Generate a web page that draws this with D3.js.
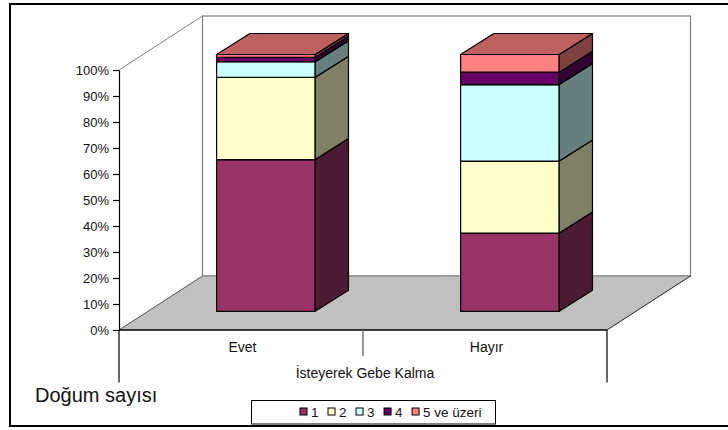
<!DOCTYPE html>
<html>
<head>
<meta charset="utf-8">
<script src="https://cdn.jsdelivr.net/npm/d3@7/dist/d3.min.js"></script>
<style>
  html, body { margin: 0; padding: 0; background: #fff; }
  svg { display: block; font-family: "Liberation Sans", Arial, sans-serif; }
</style>
</head>
<body>
<svg id="chart" width="728" height="430"></svg>
<script>
// Doğum sayısı dağılımı (%), isteyerek gebe kalma durumuna göre
const categories = ["Evet", "Hayır"];
const seriesNames = ["1", "2", "3", "4", "5 ve üzeri"];
const evetValues = [59.1, 32.0, 6.1, 1.7, 1.1];
const hayirValues = [30.5, 28.0, 29.8, 4.8, 6.9];
const valueTicks = [0, 10, 20, 30, 40, 50, 60, 70, 80, 90, 100];
const axisTitle = "İsteyerek Gebe Kalma";
const chartTitle = "Doğum sayısı";

// Face colours per series: front, side (shaded) and top (lighter shade)
const frontColors = ["#993366", "#FFFFCC", "#CCFFFF", "#660066", "#FF8080"];
const sideColors  = ["#4D1A33", "#808066", "#668080", "#330033", "#804040"];
const topColors   = ["#BF4D80", "#BFBF99", "#99BFBF", "#4D004D", "#BF6060"];

// Plot box geometry (front plane and depth vector of the 3-D box)
const plot = { left: 119, right: 607, top: 70, bottom: 330 };
const depth = { dx: 83.5, dy: -54 };
const bar = { frontShiftX: 0, depthX: 33.3, depthY: -21, startFrac: 0.4, widthFrac: 0.404 };

const svg = d3.select("#chart");

// table for d3.stack
const rows = categories.map((c, i) => {
  const vals = i === 0 ? evetValues : hayirValues;
  const r = { category: c };
  seriesNames.forEach((s, j) => { r[s] = vals[j]; });
  return r;
});
const stacked = d3.stack().keys(seriesNames)(rows);

const x = d3.scaleBand().domain(categories).range([plot.left, plot.right]).padding(0);
const yAxisScale = d3.scaleLinear().domain([0, 100]).range([plot.bottom, plot.top]);
// bars stand further back on the floor, so their front face is raised and slightly smaller
const yBar = d3.scaleLinear().domain([0, 100]).range([311.3, 54.5]);

// outer chart frame
svg.append("rect")
  .attr("x", 10).attr("y", 4).attr("width", 740).attr("height", 422)
  .attr("fill", "#fff").attr("stroke", "#000").attr("stroke-width", 2);

const P = (px, py) => `${px},${py}`;
const gWalls = svg.append("g");

// left side wall
gWalls.append("polygon")
  .attr("points", [
    P(plot.left, plot.top), P(plot.left + depth.dx, plot.top + depth.dy),
    P(plot.left + depth.dx, plot.bottom + depth.dy), P(plot.left, plot.bottom)
  ].join(" "))
  .attr("fill", "#fff");
gWalls.append("line")
  .attr("x1", plot.left).attr("y1", plot.top)
  .attr("x2", plot.left + depth.dx).attr("y2", plot.top + depth.dy)
  .attr("stroke", "#808080").attr("stroke-width", 1);

// back wall
gWalls.append("rect")
  .attr("x", plot.left + depth.dx).attr("y", plot.top + depth.dy)
  .attr("width", plot.right - plot.left).attr("height", plot.bottom - plot.top)
  .attr("fill", "#fff").attr("stroke", "#808080").attr("stroke-width", 1.2);

// floor
gWalls.append("polygon")
  .attr("points", [
    P(plot.left, plot.bottom), P(plot.right, plot.bottom),
    P(plot.right + depth.dx, plot.bottom + depth.dy), P(plot.left + depth.dx, plot.bottom + depth.dy)
  ].join(" "))
  .attr("fill", "#C0C0C0");
gWalls.append("line")
  .attr("x1", plot.left + depth.dx).attr("y1", plot.bottom + depth.dy)
  .attr("x2", plot.right + depth.dx).attr("y2", plot.bottom + depth.dy)
  .attr("stroke", "#808080").attr("stroke-width", 1.2);
gWalls.append("line")
  .attr("x1", plot.left).attr("y1", plot.bottom)
  .attr("x2", plot.left + depth.dx).attr("y2", plot.bottom + depth.dy)
  .attr("stroke", "#555").attr("stroke-width", 1);
gWalls.append("line")
  .attr("x1", plot.right).attr("y1", plot.bottom)
  .attr("x2", plot.right + depth.dx).attr("y2", plot.bottom + depth.dy)
  .attr("stroke", "#222").attr("stroke-width", 1);

// stacked 3-D bars, painted bottom segment first
const gBars = svg.append("g").attr("stroke", "#000").attr("stroke-width", 1.2)
  .attr("stroke-linejoin", "round");
categories.forEach((c, ci) => {
  const bw = x.bandwidth();
  const x0 = x(c) + bw * bar.startFrac;
  const x1 = x0 + bw * bar.widthFrac;
  const dx = bar.depthX, dy = bar.depthY;
  stacked.forEach((layer, si) => {
    const d = layer[ci];
    const yb = yBar(d[0]), yt = yBar(d[1]);
    const g = gBars.append("g");
    g.append("polygon") // front
      .attr("points", [P(x0, yb), P(x1, yb), P(x1, yt), P(x0, yt)].join(" "))
      .attr("fill", frontColors[si]);
    g.append("polygon") // side
      .attr("points", [P(x1, yb), P(x1 + dx, yb + dy), P(x1 + dx, yt + dy), P(x1, yt)].join(" "))
      .attr("fill", sideColors[si]);
    g.append("polygon") // top
      .attr("points", [P(x0, yt), P(x1, yt), P(x1 + dx, yt + dy), P(x0 + dx, yt + dy)].join(" "))
      .attr("fill", topColors[si]);
  });
});

// value axis
const yAxis = d3.axisLeft(yAxisScale)
  .tickValues(valueTicks)
  .tickFormat(d => d + "%")
  .tickSize(6).tickSizeOuter(0).tickPadding(4);
const gy = svg.append("g").attr("transform", `translate(${plot.left},0)`).call(yAxis);
gy.select(".domain").attr("stroke", "#000").attr("stroke-width", 1.2);
gy.selectAll(".tick line").attr("stroke", "#000").attr("stroke-width", 1.2);
gy.selectAll(".tick text")
  .attr("fill", "#111").attr("font-size", 13)
  .attr("font-family", "'Liberation Sans', Arial, sans-serif")
  .attr("dy", "0.36em");

// category axis with two levels (categories and the grouping title)
const gx = svg.append("g");
gx.append("line")
  .attr("x1", plot.left).attr("x2", plot.right)
  .attr("y1", plot.bottom).attr("y2", plot.bottom)
  .attr("stroke", "#000").attr("stroke-width", 1.5);
const edges = [x(categories[0])].concat(categories.map(c => x(c) + x.bandwidth()));
edges.forEach((ex, i) => {
  const outer = i === 0 || i === edges.length - 1;
  gx.append("line")
    .attr("x1", ex).attr("x2", ex)
    .attr("y1", plot.bottom).attr("y2", outer ? 382.5 : 356)
    .attr("stroke", outer ? "#000" : "#777").attr("stroke-width", outer ? 1.2 : 1.5);
});
gx.selectAll("text.cat").data(categories).join("text")
  .attr("class", "cat")
  .attr("x", c => x(c) + x.bandwidth() / 2 + 1.5)
  .attr("y", 352)
  .attr("text-anchor", "middle")
  .attr("font-size", 14).attr("fill", "#111")
  .text(c => c);
gx.append("text")
  .attr("x", (plot.left + plot.right) / 2 + 2)
  .attr("y", 378)
  .attr("text-anchor", "middle")
  .attr("font-size", 14).attr("fill", "#111")
  .text(axisTitle);

// chart title at the lower left
svg.append("text")
  .attr("x", 35).attr("y", 401.5)
  .attr("font-size", 20).attr("fill", "#111")
  .text(chartTitle);

// legend
const legend = svg.append("g");
legend.append("rect")
  .attr("x", 251.5).attr("y", 400.5).attr("width", 244).attr("height", 23.5)
  .attr("fill", "#fff").attr("stroke", "#000").attr("stroke-width", 1);
let lx = 300;
seriesNames.forEach((s, i) => {
  legend.append("rect")
    .attr("x", lx).attr("y", 408).attr("width", 7).attr("height", 7)
    .attr("fill", frontColors[i]).attr("stroke", "#000").attr("stroke-width", 1);
  const t = legend.append("text")
    .attr("x", lx + 11).attr("y", 417)
    .attr("font-size", 13.5).attr("fill", "#111")
    .text(s);
  lx += 11 + t.node().getComputedTextLength() + 9.5;
});
</script>
</body>
</html>
